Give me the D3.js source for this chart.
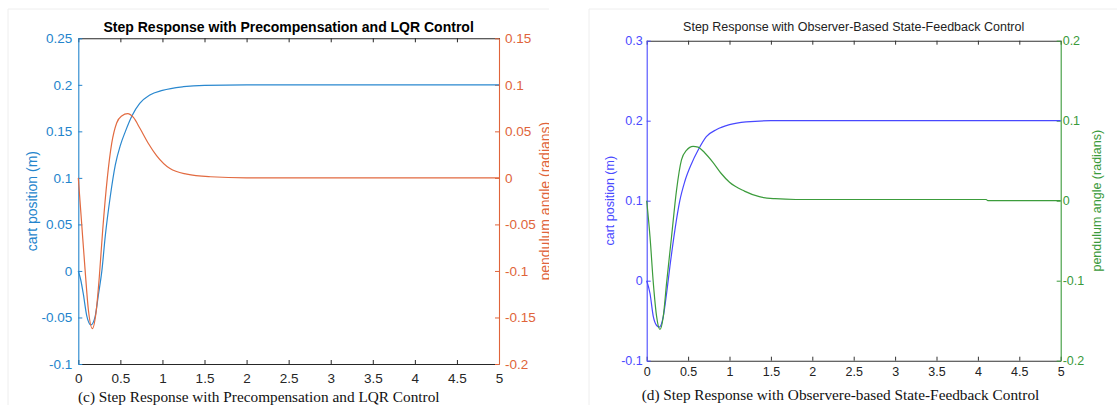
<!DOCTYPE html>
<html>
<head>
<meta charset="utf-8">
<script src="https://cdn.jsdelivr.net/npm/d3@7/dist/d3.min.js"></script>
<style>
  body { margin: 0; background: #fff; }
  svg text { font-family: Arial, "Liberation Sans", Helvetica, sans-serif; }
  svg text.caption { font-family: "Times New Roman", "Liberation Serif", serif; }
</style>
</head>
<body>
<div id="chart"></div>
<script>
// time axis ticks (shared)
const timeTicks = [0, 0.5, 1, 1.5, 2, 2.5, 3, 3.5, 4, 4.5, 5];

// (c) precompensation + LQR
const lqrCartTicks = [-0.1, -0.05, 0, 0.05, 0.1, 0.15, 0.2, 0.25];
const lqrAngleTicks = [-0.2, -0.15, -0.1, -0.05, 0, 0.05, 0.1, 0.15];
const lqrCartTime = [0, 0.03, 0.06, 0.1, 0.15, 0.2, 0.24, 0.28, 0.32, 0.38, 0.44, 0.5, 0.56, 0.64, 0.73, 0.85, 1.0, 1.25, 1.5, 2.0, 5.0];
const lqrCartPos = [0, -0.01, -0.025, -0.048, -0.058, -0.049, -0.025, 0, 0.037, 0.08, 0.114, 0.135, 0.15, 0.167, 0.18, 0.189, 0.194, 0.198, 0.1995, 0.2, 0.2];
const lqrAngleTime = [0, 0.04, 0.08, 0.12, 0.167, 0.21, 0.25, 0.29, 0.345, 0.397, 0.456, 0.516, 0.587, 0.655, 0.734, 0.833, 0.93, 1.09, 1.29, 1.57, 2.0, 5.0];
const lqrAngle = [0, -0.049, -0.098, -0.142, -0.162, -0.145, -0.106, -0.056, 0, 0.037, 0.059, 0.0666, 0.069, 0.065, 0.053, 0.037, 0.024, 0.01, 0.004, 0.0012, 0, 0];

// (d) observer-based state feedback
const obsCartTicks = [-0.1, 0, 0.1, 0.2, 0.3];
const obsAngleTicks = [-0.2, -0.1, 0, 0.1, 0.2];
const obsCartTime = [0, 0.04, 0.08, 0.12, 0.153, 0.2, 0.24, 0.28, 0.34, 0.4, 0.46, 0.54, 0.62, 0.72, 0.845, 1.0, 1.2, 1.5, 5.0];
const obsCartPos = [0, -0.016, -0.045, -0.056, -0.058, -0.045, -0.016, 0.0175, 0.063, 0.1, 0.124, 0.146, 0.163, 0.18, 0.189, 0.195, 0.1985, 0.2, 0.2];
const obsAngleTime = [0, 0.04, 0.08, 0.12, 0.16, 0.2, 0.24, 0.3, 0.36, 0.42, 0.48, 0.56, 0.62, 0.7, 0.8, 0.9, 1.0, 1.18, 1.36, 1.55, 1.8, 4.1, 4.12, 5.0];
const obsAngle = [0, -0.045, -0.103, -0.145, -0.161, -0.145, -0.103, -0.045, 0.013, 0.051, 0.063, 0.068, 0.067, 0.06, 0.048, 0.034, 0.023, 0.012, 0.005, 0.0025, 0.0015, 0.0015, 0, 0];

const width = 1117;
const height = 405;

const svg = d3.select("#chart")
  .append("svg")
  .attr("width", width)
  .attr("height", height);

const fmt = d => String(+d.toFixed(2));

function drawPanel(o) {
  const g = svg.append("g");

  // faint page frame
  g.append("path")
    .attr("d", `M${o.frame[0]},${o.frame[3]}V${o.frame[1]}H${o.frame[2]}`)
    .attr("fill", "none")
    .attr("stroke", "#eeeeee");

  const body = g.append("g");
  if (o.clipRight) {
    svg.append("clipPath").attr("id", o.id + "-clip")
      .append("rect").attr("x", 0).attr("y", 0).attr("width", o.clipRight).attr("height", height);
    body.attr("clip-path", `url(#${o.id}-clip)`);
  }

  const x = d3.scaleLinear().domain([0, 5]).range([o.left, o.right]);
  const yL = d3.scaleLinear().domain([o.leftTicks[0], o.leftTicks[o.leftTicks.length - 1]]).range([o.bottom, o.top]);
  const yR = d3.scaleLinear().domain([o.rightTicks[0], o.rightTicks[o.rightTicks.length - 1]]).range([o.bottom, o.top]);

  // top box edge
  body.append("g")
    .attr("transform", `translate(0,${o.top})`)
    .call(d3.axisTop(x).tickValues(timeTicks).tickSize(-4).tickSizeOuter(0).tickFormat(""))
    .attr("color", o.boxColor);

  const xAxis = body.append("g")
    .attr("transform", `translate(0,${o.bottom})`)
    .call(d3.axisBottom(x).tickValues(timeTicks).tickSize(-4).tickSizeOuter(0).tickPadding(o.xPad).tickFormat(fmt))
    .attr("color", o.boxColor);
  xAxis.selectAll("text").attr("font-size", o.tickFont).attr("fill", o.tickColor)
    .attr("font-family", null);

  const lAxis = body.append("g")
    .attr("transform", `translate(${o.left},0)`)
    .call(d3.axisLeft(yL).tickValues(o.leftTicks).tickSize(-4).tickSizeOuter(0).tickPadding(o.lPad).tickFormat(fmt))
    .attr("color", o.leftColor);
  lAxis.selectAll("text").attr("font-size", o.tickFont).attr("font-family", null);

  const rAxis = body.append("g")
    .attr("transform", `translate(${o.right},0)`)
    .call(d3.axisRight(yR).tickValues(o.rightTicks).tickSize(-4).tickSizeOuter(0).tickPadding(o.rPad).tickFormat(fmt))
    .attr("color", o.rightColor);
  rAxis.selectAll("text").attr("font-size", o.tickFont).attr("font-family", null);

  body.selectAll(".domain").attr("stroke-width", 1.1);

  // curves
  const cartLine = d3.line().x(d => x(d[0])).y(d => yL(d[1])).curve(d3.curveMonotoneX);
  const angleLine = d3.line().x(d => x(d[0])).y(d => yR(d[1])).curve(d3.curveMonotoneX);

  body.append("path")
    .datum(d3.zip(o.cartTime, o.cart))
    .attr("d", cartLine)
    .attr("fill", "none")
    .attr("stroke", o.leftLine)
    .attr("stroke-width", 1.2);

  body.append("path")
    .datum(d3.zip(o.angleTime, o.angle))
    .attr("d", angleLine)
    .attr("fill", "none")
    .attr("stroke", o.rightLine)
    .attr("stroke-width", 1.2);

  // title
  body.append("text")
    .attr("x", (o.left + o.right) / 2)
    .attr("y", o.titleY)
    .attr("text-anchor", "middle")
    .attr("font-size", o.titleFont)
    .attr("font-weight", o.titleWeight)
    .attr("fill", o.titleColor)
    .text(o.title);

  // y labels, both read bottom to top
  body.append("text")
    .attr("transform", `translate(${o.leftLabelX},${(o.top + o.bottom) / 2}) rotate(-90)`)
    .attr("text-anchor", "middle")
    .attr("font-size", o.labelFont)
    .attr("fill", o.leftColor)
    .text("cart position (m)");

  body.append("text")
    .attr("transform", `translate(${o.rightLabelX},${(o.top + o.bottom) / 2}) rotate(-90)`)
    .attr("text-anchor", "middle")
    .attr("font-size", o.labelFont)
    .attr("fill", o.rightColor)
    .text("pendulum angle (radians)");

  // caption under the figure
  g.append("text")
    .attr("class", "caption")
    .attr("x", o.captionX)
    .attr("y", o.captionY)
    .attr("font-size", 15.3)
    .attr("fill", "#111")
    .text(o.caption);
}

drawPanel({
  id: "lqr",
  frame: [8, 9, 549, 405],
  clipRight: 549,
  left: 78.3, right: 499, top: 38.3, bottom: 364,
  leftTicks: lqrCartTicks, rightTicks: lqrAngleTicks,
  cartTime: lqrCartTime, cart: lqrCartPos,
  angleTime: lqrAngleTime, angle: lqrAngle,
  boxColor: "#262626", tickColor: "#262626",
  leftColor: "#2384cc", rightColor: "#e0643a",
  leftLine: "#2a88cf", rightLine: "#e26a40",
  tickFont: 13.5, xPad: 9, lPad: 6, rPad: 6,
  title: "Step Response with Precompensation and LQR Control",
  titleFont: 14, titleWeight: "bold", titleColor: "#000", titleY: 32,
  labelFont: 14, leftLabelX: 36.5, rightLabelX: 550,
  caption: "(c) Step Response with Precompensation and LQR Control",
  captionX: 78, captionY: 401.5
});

drawPanel({
  id: "obs",
  frame: [589, 9, 1117, 405],
  left: 646.7, right: 1060.7, top: 40.7, bottom: 360.7,
  leftTicks: obsCartTicks, rightTicks: obsAngleTicks,
  cartTime: obsCartTime, cart: obsCartPos,
  angleTime: obsAngleTime, angle: obsAngle,
  boxColor: "#333", tickColor: "#222",
  leftColor: "#4a4aff", rightColor: "#3a9a3a",
  leftLine: "#4848ff", rightLine: "#3c9c3c",
  tickFont: 12.5, xPad: 6, lPad: 4, rPad: 2,
  title: "Step Response with Observer-Based State-Feedback Control",
  titleFont: 12.5, titleWeight: "normal", titleColor: "#222", titleY: 31,
  labelFont: 12.5, leftLabelX: 613.5, rightLabelX: 1100.5,
  caption: "(d) Step Response with Observere-based State-Feedback Control",
  captionX: 641.7, captionY: 400
});
</script>
</body>
</html>
